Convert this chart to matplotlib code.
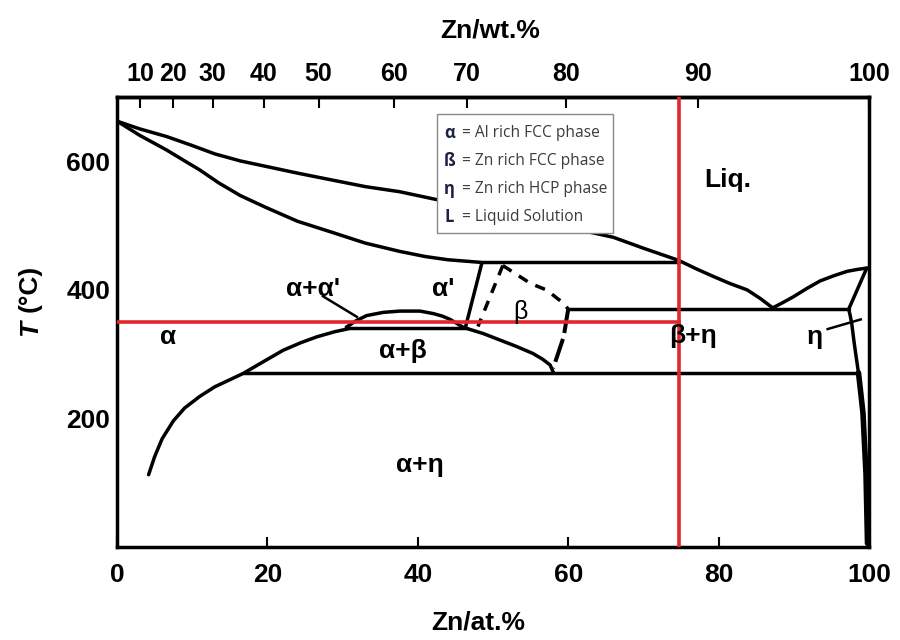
import matplotlib.pyplot as plt
from matplotlib.patches import Rectangle

plt.rcParams['font.family'] = ['Liberation Sans', 'DejaVu Sans']

# phase boundaries (x = Zn at.%, T = deg C)
liq_al_x = [0, 3, 6.6, 10, 13, 16.4, 20, 24, 28.7, 33, 37.6, 42, 55, 66, 70, 74.7,
            77, 79.3, 81.5, 83.8, 85.5, 87.2]
liq_al_t = [663, 651, 639, 625, 612, 601, 592, 582, 571, 561, 553, 542, 510, 482,
            465, 446, 433, 421, 410, 400, 387, 372]
liq_zn_x = [87.2, 88.5, 89.9, 91.7, 93.5, 95.3, 97.1, 98.5, 99.7]
liq_zn_t = [372, 380, 389, 402, 414, 422, 429, 432, 434]
sol_x = [0, 3, 6.6, 9, 11, 13.5, 16.4, 19.9, 24, 28.8, 33, 37.6, 41, 44, 48.3]
sol_t = [663, 641, 618, 601, 587, 567, 547, 528, 507, 489, 473, 460, 452, 447, 443]
perit_x = [48.3, 74.7]
perit_t = [443, 443]
solv_a_x = [4.2, 5, 6, 7.5, 9, 11, 13, 15, 16.8, 19, 22.1, 24.5, 26.6, 29, 31]
solv_a_t = [112, 140, 168, 196, 216, 234, 249, 260, 270, 285, 306, 318, 327, 335, 340]
monot_x = [31, 46.5]
monot_t = [340, 340]
dome_x = [30.5, 31.8, 33.2, 35.4, 37.6, 40.3, 42.1, 43.3, 44.3, 45.3, 46.0]
dome_t = [342, 352, 360, 365, 367, 367, 363, 359, 354, 347, 342]
alpha_p_x = [48.5, 46.3]
alpha_p_t = [441, 340]
beta_l_x = [51.3, 48.0]
beta_l_t = [438, 343]
beta_top_x = [51.3, 55, 57.1, 59.4, 60]
beta_top_t = [438, 410, 400, 379, 370]
beta_r_x = [60, 59.4, 58]
beta_r_t = [370, 327, 278]
solv_b_x = [46.5, 48.7, 50.9, 53.1, 55.3, 56.6, 57.6, 58]
solv_b_t = [340, 332, 322, 312, 301, 292, 283, 272]
eut_x = [60, 97.3]
eut_t = [370, 370]
eta_sol_x = [97.3, 99.7]
eta_sol_t = [370, 434]
eta_solv_x = [97.3, 97.5, 97.7, 98.0, 98.3, 98.6]
eta_solv_t = [370, 360, 348, 320, 295, 271]
eta_low_x = [98.6, 98.9, 99.2, 99.4, 99.6, 99.7, 99.8]
eta_low_t = [271, 240, 208, 160, 114, 60, 5]
eutd_x = [16.8, 98.6]
eutd_t = [271, 271]

# marked composition / temperature
x_mark = 74.7
t_mark = 350

top_pos = [3.06, 7.4, 12.7, 19.5, 26.8, 36.8, 46.5, 59.7, 77.3, 100]
top_lab = ['10', '20', '30', '40', '50', '60', '70', '80', '90', '100']
bot_pos = [0, 20, 40, 60, 80, 100]
y_pos = [200, 400, 600]

legend_sym = ['α', 'ß', 'η', 'L']
legend_txt = ['= Al rich FCC phase', '= Zn rich FCC phase',
              '= Zn rich HCP phase', '= Liquid Solution']

fig = plt.figure(figsize=(9, 6.4), dpi=100)
ax = fig.add_axes([117 / 900, 1 - 546.6 / 640, 752 / 900, 449.2 / 640])
ax.set_xlim(0, 100)
ax.set_ylim(0, 700)

lw = 2.5
for xs, ts in [(liq_al_x, liq_al_t), (liq_zn_x, liq_zn_t), (sol_x, sol_t),
               (perit_x, perit_t), (solv_a_x, solv_a_t), (monot_x, monot_t),
               (dome_x, dome_t), (alpha_p_x, alpha_p_t), (solv_b_x, solv_b_t),
               (eut_x, eut_t), (eta_sol_x, eta_sol_t), (eta_solv_x, eta_solv_t),
               (eutd_x, eutd_t)]:
    ax.plot(xs, ts, color='black', lw=lw, solid_capstyle='round',
            solid_joinstyle='round', zorder=2)
ax.plot(eta_low_x, eta_low_t, color='black', lw=4, solid_capstyle='round', zorder=2)
ax.plot(beta_l_x, beta_l_t, color='black', lw=lw, ls=(0, (3, 2.5)), zorder=2)
ax.plot(beta_top_x, beta_top_t, color='black', lw=lw, ls=(0, (3, 2.5)), zorder=2)
ax.plot(beta_r_x, beta_r_t, color='black', lw=lw + 0.4, ls=(0, (6, 1.5)), zorder=2)

# eta label leader and alpha+alpha' leader
ax.plot([94.5, 98.9], [339, 354], color='black', lw=1.8, zorder=2)
ax.plot([27.4, 31.9], [390, 358], color='black', lw=1.8, zorder=2)

# red marker lines
ax.plot([x_mark, x_mark], [0, 700], color='#e3262b', lw=2.6, zorder=3)
ax.plot([0, x_mark], [t_mark, t_mark], color='#e3262b', lw=2.6, zorder=3)

lab_kw = dict(fontsize=19, fontweight='bold', ha='center', va='center', zorder=4)
ax.text(81.2, 571, 'Liq.', **lab_kw)
ax.text(26.0, 401, "α+α'", **lab_kw)
ax.text(43.4, 402, "α'", **lab_kw)
ax.text(53.6, 366, 'β', fontsize=18, ha='center', va='center', zorder=4)
ax.text(6.8, 326, 'α', **lab_kw)
ax.text(38.0, 305, 'α+β', **lab_kw)
ax.text(76.6, 328, 'β+η', **lab_kw)
ax.text(92.8, 326, 'η', **lab_kw)
ax.text(40.3, 127, 'α+η', **lab_kw)

# phase key box
ax.add_patch(Rectangle((42.6, 488.7), 23.4, 185.3, facecolor='white',
                       edgecolor='#8a8a8a', lw=1.0, zorder=5))
for i, (s, t) in enumerate(zip(legend_sym, legend_txt)):
    yy = 644 - i * 43.5
    ax.text(43.5, yy, s, fontsize=12, fontweight='bold', color='#1c2340',
            family=['Open Sans', 'DejaVu Sans'], va='center', zorder=6)
    ax.text(45.9, yy, t, fontsize=11.2, color='#3a3a42',
            family=['Open Sans', 'DejaVu Sans'], va='center', zorder=6)

for sp in ax.spines.values():
    sp.set_linewidth(2.5)

ax.set_xticks(bot_pos)
ax.set_xticklabels([str(v) for v in bot_pos], fontweight='bold')
ax.tick_params(axis='x', direction='in', length=7, width=1.5, pad=12,
               labelsize=19)
ax.set_yticks(y_pos)
ax.set_yticklabels([str(v) for v in y_pos], fontweight='bold')
ax.tick_params(axis='y', length=0, pad=5, labelsize=19)

top = ax.secondary_xaxis('top')
top.set_xticks(top_pos)
top.set_xticklabels(top_lab, fontweight='bold')
top.tick_params(direction='in', length=8, width=1.5, pad=8, labelsize=18)
top.spines['top'].set_linewidth(2.5)

fig.text(490 / 900, 1 - 30 / 640, 'Zn/wt.%', fontsize=19, fontweight='bold',
         ha='center', va='center')
fig.text(478 / 900, 1 - 622 / 640, 'Zn/at.%', fontsize=19, fontweight='bold',
         ha='center', va='center')
fig.text(30 / 900, 1 - 328 / 640, 'T', fontsize=19, fontweight='bold',
         style='italic', rotation=90, ha='center', va='center')
fig.text(30 / 900, 1 - 288 / 640, '(°C)', fontsize=19, fontweight='bold',
         rotation=90, ha='center', va='center')

fig.savefig('out.png', dpi=100, facecolor='white')
